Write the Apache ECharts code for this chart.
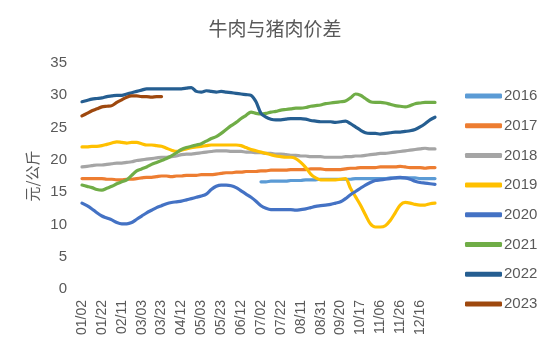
<!DOCTYPE html>
<html>
<head>
<meta charset="utf-8">
<script src="https://cdn.jsdelivr.net/npm/echarts@6/dist/echarts.min.js"></script>
<style>html,body{margin:0;padding:0;background:#fff}#c{width:550px;height:350px}</style>
</head>
<body>
<div id="c"></div>
<script>
const categories = [
 '01/02','01/07','01/12','01/17','01/22','01/27','02/01','02/06',
 '02/11','02/16','02/21','02/26','03/03','03/08','03/13','03/18',
 '03/23','03/28','04/02','04/07','04/12','04/17','04/22','04/27',
 '05/03','05/08','05/13','05/18','05/23','05/28','06/02','06/07',
 '06/12','06/17','06/22','06/27','07/02','07/07','07/12','07/17',
 '07/22','07/27','08/01','08/06','08/11','08/16','08/21','08/26',
 '08/31','09/05','09/10','09/15','09/20','09/25','10/07','10/12',
 '10/17','10/22','10/27','11/01','11/06','11/11','11/16','11/21',
 '11/26','12/01','12/06','12/11','12/16','12/21','12/26','12/31'
];
const yTicks = [0, 5, 10, 15, 20, 25, 30, 35];
const seriesNames = ['2016','2017','2018','2019','2020','2021','2022','2023'];

const y2016 = [null,null,null,null,null,null,null,null,null,null,null,null,null,null,null,null,
 null,null,null,null,null,null,null,null,null,null,null,null,null,null,null,null,null,null,null,null,
 16.6,16.6,16.7,16.7,16.7,16.7,16.8,16.8,16.8,16.9,16.9,16.9,17.0,17.0,17.0,17.0,17.0,17.0,17.0,17.1,
 17.1,17.1,17.1,17.1,17.1,17.1,17.2,17.2,17.2,17.2,17.2,17.2,17.1,17.1,17.1,17.1];
const y2017 = [17.1,17.1,17.1,17.1,17.1,17.0,17.0,16.9,16.9,17.0,17.0,17.1,17.2,17.3,17.3,17.4,
 17.5,17.5,17.4,17.5,17.5,17.6,17.6,17.6,17.7,17.7,17.7,17.8,17.9,18.0,18.0,18.1,18.1,18.2,18.2,18.2,
 18.3,18.3,18.4,18.4,18.4,18.4,18.5,18.5,18.5,18.5,18.6,18.6,18.6,18.5,18.5,18.5,18.5,18.6,18.7,18.7,
 18.8,18.8,18.8,18.8,18.9,18.9,18.9,18.9,19.0,18.9,18.8,18.8,18.8,18.7,18.8,18.8];
const y2018 = [18.9,19.0,19.1,19.2,19.2,19.3,19.4,19.5,19.5,19.6,19.7,19.9,20.0,20.1,20.2,20.3,
 20.4,20.4,20.5,20.6,20.8,20.9,20.9,21.0,21.1,21.2,21.3,21.4,21.4,21.4,21.3,21.3,21.3,21.2,21.2,21.1,
 21.1,21.0,21.0,20.9,20.9,20.8,20.7,20.7,20.6,20.6,20.5,20.5,20.5,20.4,20.4,20.4,20.4,20.5,20.5,20.6,
 20.6,20.7,20.8,20.9,21.0,21.0,21.1,21.2,21.3,21.4,21.5,21.6,21.7,21.8,21.7,21.7];
const y2019 = [22.0,22.0,22.1,22.1,22.2,22.4,22.6,22.8,22.7,22.6,22.7,22.7,22.5,22.3,22.3,22.2,
 22.1,21.8,21.5,21.3,21.5,21.7,21.9,22.0,22.1,22.2,22.3,22.3,22.3,22.3,22.3,22.3,22.2,21.9,21.6,21.4,
 21.2,21.0,20.8,20.6,20.5,20.4,20.4,20.2,19.6,18.8,17.8,17.2,16.9,16.9,16.9,16.9,17.0,17.1,15.6,14.3,
 13.0,11.5,10.1,9.6,9.6,9.8,10.6,11.8,13.0,13.4,13.3,13.1,13.0,13.0,13.2,13.3];
const y2020 = [13.3,12.9,12.4,11.8,11.3,11.0,10.7,10.3,10.1,10.1,10.3,10.8,11.3,11.8,12.2,12.6,
 12.9,13.2,13.4,13.5,13.6,13.8,14.0,14.2,14.4,14.7,15.4,15.9,16.1,16.1,16.0,15.7,15.2,14.7,14.2,13.6,
 12.9,12.5,12.3,12.3,12.3,12.3,12.3,12.2,12.3,12.4,12.6,12.8,12.9,13.0,13.1,13.3,13.5,14.0,14.6,15.1,
 15.6,16.1,16.5,16.8,16.9,17.0,17.1,17.2,17.3,17.2,17.0,16.7,16.5,16.4,16.3,16.2];
const y2021 = [16.1,15.9,15.7,15.4,15.3,15.6,15.9,16.3,16.6,16.9,17.6,18.3,18.6,18.9,19.3,19.6,
 19.9,20.2,20.6,21.1,21.6,21.9,22.1,22.3,22.5,22.9,23.3,23.6,24.1,24.7,25.3,25.8,26.4,26.9,27.4,27.2,
 27.1,27.2,27.4,27.5,27.7,27.8,27.9,28.0,28.0,28.1,28.3,28.4,28.5,28.7,28.8,28.9,29.0,29.1,29.6,30.2,
 30.0,29.5,29.0,28.9,28.9,28.8,28.6,28.4,28.3,28.2,28.4,28.7,28.8,28.9,28.9,28.9];
const y2022 = [29.0,29.2,29.4,29.5,29.6,29.8,29.9,30.0,30.0,30.2,30.4,30.6,30.8,31.0,31.0,31.0,
 31.0,31.0,31.0,31.0,31.0,31.1,31.2,30.6,30.5,30.7,30.6,30.5,30.6,30.5,30.4,30.3,30.2,30.1,30.0,29.0,
 27.2,26.6,26.3,26.2,26.2,26.3,26.4,26.4,26.4,26.3,26.1,26.0,25.9,25.9,25.9,25.8,25.9,26.0,25.6,25.1,
 24.6,24.2,24.1,24.1,24.0,24.1,24.2,24.3,24.3,24.4,24.5,24.7,25.1,25.6,26.2,26.6];
const y2023 = [26.8,27.2,27.6,27.9,28.2,28.3,28.4,28.9,29.3,29.7,29.9,29.9,29.8,29.8,29.7,29.8,29.8];

const values = [y2016, y2017, y2018, y2019, y2020, y2021, y2022, y2023];
const colors = ['#5B9BD5','#ED7D31','#A5A5A5','#FFC000','#4472C4','#70AD47','#255E91','#9E480E'];

const chart = echarts.init(document.getElementById('c'), null, {renderer: 'canvas'});
const FONT = '"Noto Sans CJK SC", "Noto Sans", sans-serif';
chart.setOption({
  animation: false,
  backgroundColor: '#ffffff',
  title: {
    text: '牛肉与猪肉价差',
    left: 'center',
    top: 14,
    textStyle: {fontSize: 19, fontWeight: 'normal', color: '#595959', fontFamily: FONT}
  },
  legend: {
    orient: 'vertical',
    left: 460,
    top: 83,
    itemWidth: 37,
    itemHeight: 5,
    itemGap: 13.7,
    icon: 'roundRect',
    textStyle: {fontSize: 15, color: '#595959', fontFamily: '"Liberation Sans", sans-serif', lineHeight: 16, padding: [0,0,0,-3]},
    data: seriesNames
  },
  grid: {left: 82, right: 115, top: 63, bottom: 61, containLabel: false},
  xAxis: {
    type: 'category',
    data: categories,
    boundaryGap: false,
    axisLine: {show: false},
    axisTick: {show: false},
    axisLabel: {interval: 3, rotate: 90, color: '#595959', fontSize: 14, margin: 11, fontFamily: '"Liberation Sans", sans-serif'}
  },
  yAxis: {
    type: 'value',
    min: yTicks[0],
    max: yTicks[yTicks.length - 1],
    interval: 5,
    name: '元/公斤',
    nameLocation: 'middle',
    nameRotate: 90,
    nameGap: 42,
    nameTextStyle: {fontSize: 15, color: '#595959', fontFamily: FONT},
    axisLine: {show: false},
    axisTick: {show: false},
    splitLine: {show: false},
    axisLabel: {color: '#595959', fontSize: 15, margin: 15, fontFamily: '"Liberation Sans", sans-serif'}
  },
  series: seriesNames.map((n, i) => ({
    name: n,
    type: 'line',
    data: values[i],
    showSymbol: false,
    smooth: 0.3,
    connectNulls: false,
    lineStyle: {width: 3.2, color: colors[i], cap: 'round', join: 'round'},
    itemStyle: {color: colors[i]},
    z: 2 + i
  }))
});
</script>
</body>
</html>
